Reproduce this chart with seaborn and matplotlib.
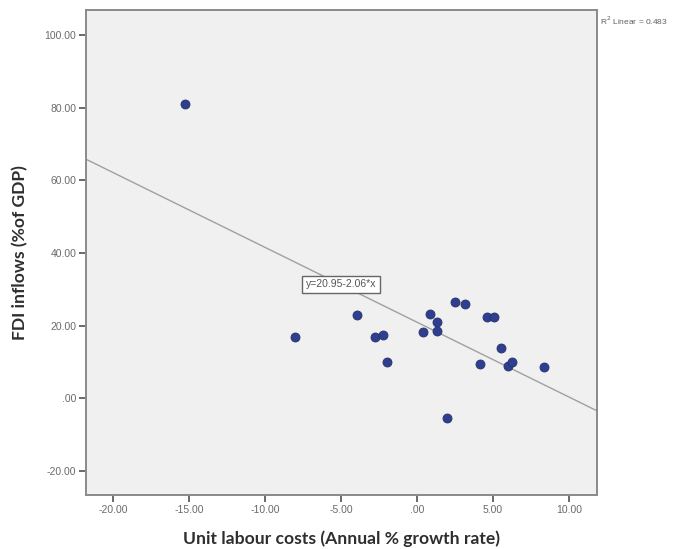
import matplotlib
matplotlib.use("Agg")
import matplotlib.pyplot as plt
import matplotlib.ticker as mticker
import numpy as np
import pandas as pd
import seaborn as sns

# Unit labour cost growth (%) vs FDI inflows (% of GDP)
ulc_growth = [-15.3, -8.0, -3.96, -2.8, -2.24, -1.98, 0.38, 0.86, 1.32, 1.34,
              1.97, 2.52, 3.17, 4.11, 4.57, 5.06, 5.53, 5.97, 6.22, 8.38]
fdi_inflows = [80.9, 16.9, 22.9, 16.9, 17.4, 10.1, 18.3, 23.1, 21.0, 18.5,
               -5.4, 26.4, 25.9, 9.5, 22.3, 22.3, 13.9, 8.9, 9.9, 8.5]

# Linear fit reported by the software
fit_intercept = 20.95
fit_slope = -2.06
fit_r2 = 0.483

x_ticks = [-20, -15, -10, -5, 0, 5, 10]
y_ticks = [-20, 0, 20, 40, 60, 80, 100]
x_limits = (-21.78, 11.84)
y_limits = (-26.6, 106.9)

df = pd.DataFrame({"ulc": ulc_growth, "fdi": fdi_inflows})

sns.set_theme(style="ticks")
plt.rcParams["font.family"] = ["Liberation Sans", "DejaVu Sans"]

fig = plt.figure(figsize=(6.91, 5.49), dpi=100)
ax = fig.add_axes([0.1245, 0.0984, 0.7395, 0.8834])
ax.set_facecolor("#F0F0F0")

# fitted line across the full x-range
line_x = np.array(x_limits)
line_df = pd.DataFrame({"ulc": line_x, "fdi": fit_intercept + fit_slope * line_x})
sns.lineplot(data=line_df, x="ulc", y="fdi", ax=ax, color="#A0A0A0",
             linewidth=1.0, zorder=2)

sns.scatterplot(data=df, x="ulc", y="fdi", ax=ax, color="#2F3F8F",
                edgecolor="#26306E", linewidth=0.6, s=42, zorder=3)

ax.set_xlim(*x_limits)
ax.set_ylim(*y_limits)
ax.set_xticks(x_ticks)
ax.set_yticks(y_ticks)


def spss_fmt(v, pos=None):
    s = f"{v:.2f}"
    if s.startswith("0."):
        s = s[1:]
    elif s.startswith("-0."):
        s = "-" + s[2:]
    return s


ax.xaxis.set_major_formatter(mticker.FuncFormatter(spss_fmt))
ax.yaxis.set_major_formatter(mticker.FuncFormatter(spss_fmt))
ax.tick_params(axis="both", which="major", direction="out", length=5,
               width=1.2, color="#505050", labelcolor="#6A6A6A",
               labelsize=7.5, pad=2, bottom=True, left=True,
               top=False, right=False)
for lbl in ax.get_xticklabels() + ax.get_yticklabels():
    lbl.set_family(["Liberation Sans", "DejaVu Sans"])

for side in ["left", "bottom", "top", "right"]:
    ax.spines[side].set_visible(True)
    ax.spines[side].set_color("#8A8A8A")
    ax.spines[side].set_linewidth(1.4)

label_font = dict(family=["Lato", "DejaVu Sans"], fontsize=12.6,
                  fontweight="bold", color="#2E2E2E")
ax.set_xlabel("Unit labour costs (Annual % growth rate)", labelpad=11,
              **label_font)
ax.set_ylabel("FDI inflows (%of GDP)", labelpad=12, **label_font)

# equation label
ax.text(-5.0, 31.4, f"y={fit_intercept:.2f}{fit_slope:.2f}*x", fontsize=7.5,
        color="#555555", ha="center", va="center", zorder=4,
        bbox=dict(boxstyle="square,pad=0.35", facecolor="white",
                  edgecolor="#666666", linewidth=1.0))

# R-squared annotation outside the plot area
fig.text(0.868, 0.962, f"R$^2$ Linear = {fit_r2:.3f}", fontsize=6,
         color="#606060", ha="left", va="center")

fig.savefig("out.png", dpi=100, facecolor="white")
